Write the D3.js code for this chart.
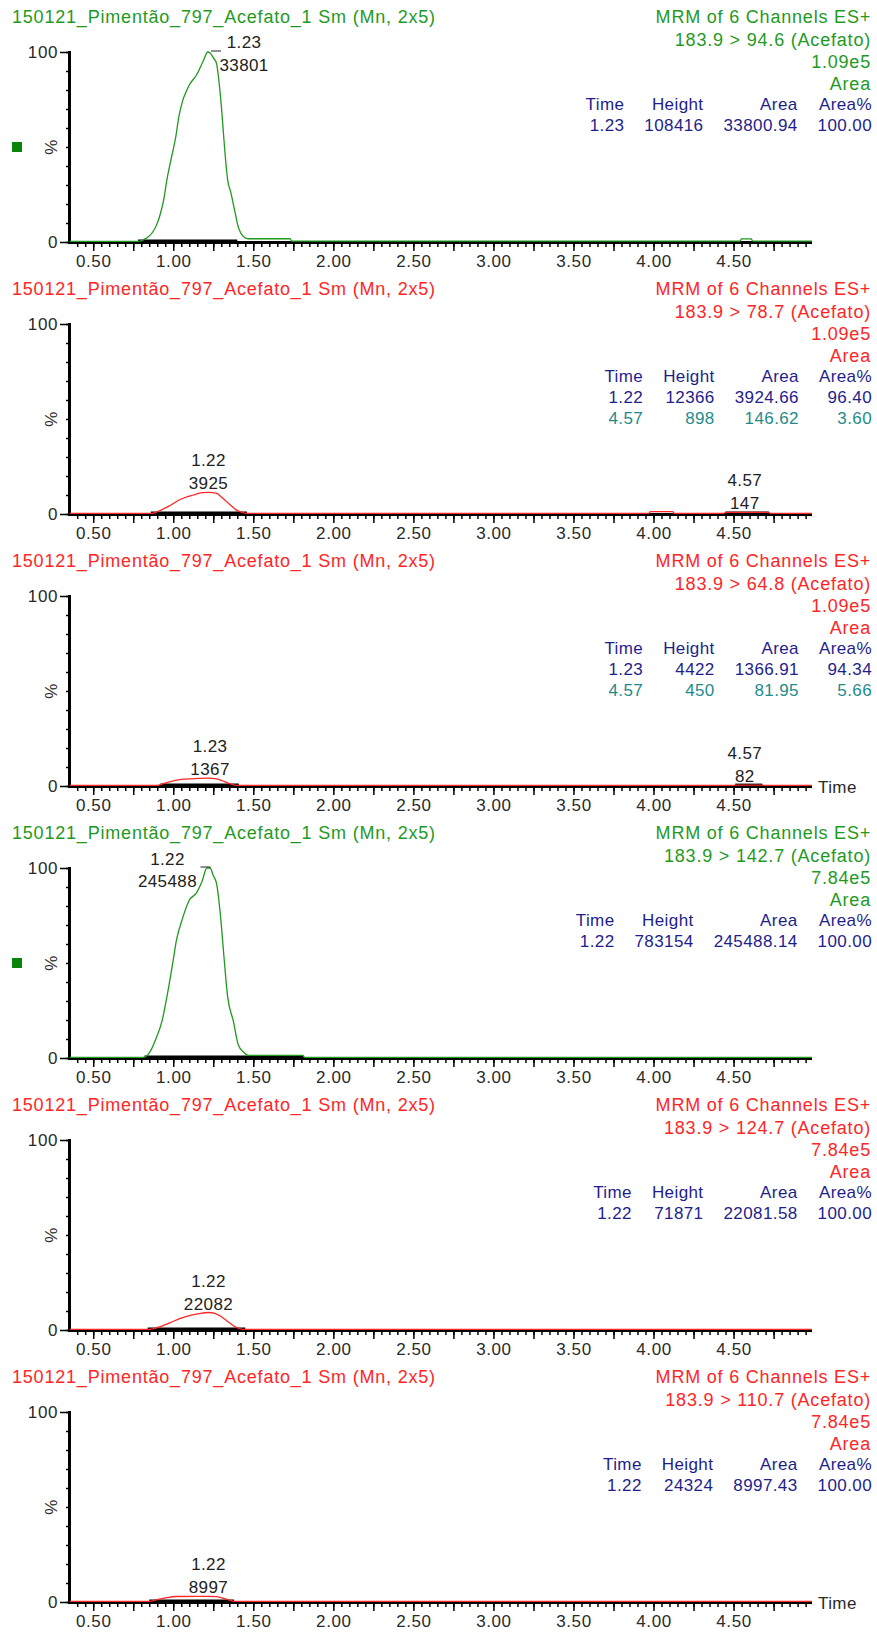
<!DOCTYPE html>
<html>
<head>
<meta charset="utf-8">
<script src="https://cdn.jsdelivr.net/npm/d3@7"></script>
<style>
body { margin: 0; background: #fff; }
svg text { font-family: "Liberation Sans", Arial, sans-serif; font-size: 17px; letter-spacing: 0.4px; }
svg text.hdr { font-size: 18px; letter-spacing: 0.8px; }
.tick text { font-size: 17px; letter-spacing: 0.6px; fill: #2a2a2a; }
</style>
</head>
<body>
<script>
var width = 877, height = 1632, panelH = 272;

// ---- data ----
var sampleName = "150121_Pimentão_797_Acefato_1 Sm (Mn, 2x5)";
var scanType = "MRM of 6 Channels ES+";
var channels = ["183.9 > 94.6 (Acefato)", "183.9 > 78.7 (Acefato)", "183.9 > 64.8 (Acefato)",
                "183.9 > 142.7 (Acefato)", "183.9 > 124.7 (Acefato)", "183.9 > 110.7 (Acefato)"];
var fullScale = ["1.09e5", "1.09e5", "1.09e5", "7.84e5", "7.84e5", "7.84e5"];
var tableHead = ["Time", "Height", "Area", "Area%"];
var tableRows = [
    [["1.23", "108416", "33800.94", "100.00"]],
    [["1.22", "12366", "3924.66", "96.40"], ["4.57", "898", "146.62", "3.60"]],
    [["1.23", "4422", "1366.91", "94.34"], ["4.57", "450", "81.95", "5.66"]],
    [["1.22", "783154", "245488.14", "100.00"]],
    [["1.22", "71871", "22081.58", "100.00"]],
    [["1.22", "24324", "8997.43", "100.00"]]
];
// peak apex labels: [retention time, area]
var peakLabels = [
    [[1.23, "33801"]],
    [[1.22, "3925"], [4.57, "147"]],
    [[1.23, "1367"], [4.57, "82"]],
    [[1.22, "245488"]],
    [[1.22, "22082"]],
    [[1.22, "8997"]]
];
// integrated ranges (start, end time)
var integrated = [
    [[0.78, 1.40]],
    [[0.86, 1.46], [4.45, 4.72]],
    [[0.92, 1.41], [4.51, 4.68]],
    [[0.82, 1.81]],
    [[0.84, 1.45]],
    [[0.85, 1.38]]
];
// traces: [time, % of full scale]
var trace946 = [[0.355,0.3],[0.78,0.3],[0.81,1.0],[0.83,1.9],[0.87,5],[0.90,9.8],[0.92,15],[0.94,22],[0.96,32.6],
    [0.99,45],[1.015,55],[1.035,66],[1.06,74.7],[1.08,79],[1.10,82.6],[1.146,88],[1.19,95.8],[1.215,100],[1.23,99.5],
    [1.25,97],[1.27,94],[1.285,85],[1.30,72],[1.31,61],[1.325,45],[1.34,32.6],[1.36,26],[1.375,20],[1.39,14],[1.40,9.8],
    [1.42,5],[1.44,2.8],[1.47,1.7],[1.73,1.7],[1.74,0.5],[4.54,0.5],[4.55,1.6],[4.61,1.6],[4.62,0.5],[4.99,0.5]];
var trace787 = [[0.355,0.3],[0.86,0.3],[0.93,2.3],[0.98,4.5],[1.04,7.5],[1.126,10],[1.18,11.2],[1.22,11.4],[1.267,11],
    [1.30,9],[1.32,7.5],[1.36,4.5],[1.39,2.3],[1.43,0.8],[1.46,0.3],[3.97,0.3],[3.98,1.2],[4.12,1.2],[4.13,0.3],
    [4.44,0.3],[4.45,0.9],[4.72,0.9],[4.73,0.3],[4.99,0.3]];
var trace648 = [[0.355,0.3],[0.90,0.3],[0.93,1],[0.97,2],[1.04,3.4],[1.12,3.8],[1.22,4.1],[1.27,3.8],[1.30,3],
    [1.355,1.2],[1.40,0.3],[4.50,0.3],[4.51,0.5],[4.68,0.5],[4.69,0.3],[4.99,0.3]];
var trace1427 = [[0.355,0.3],[0.80,0.3],[0.82,0.5],[0.86,4],[0.886,8.9],[0.93,19.5],[0.96,32],[0.996,49.5],[1.02,62],
    [1.06,74],[1.10,83],[1.146,87],[1.18,93],[1.21,100],[1.23,100],[1.25,96],[1.27,92],[1.296,74],[1.317,53],[1.34,32],
    [1.375,19.5],[1.406,7],[1.44,3],[1.47,1.4],[1.81,1.4],[1.82,0.3],[4.99,0.3]];
var trace1247 = [[0.355,0.3],[0.84,0.3],[0.92,1.8],[0.98,3.8],[1.04,6],[1.12,8],[1.18,8.9],[1.22,9.2],[1.26,8.8],
    [1.30,7],[1.34,4.5],[1.38,2],[1.42,0.6],[1.45,0.3],[4.99,0.3]];
var trace1107 = [[0.355,0.3],[0.85,0.3],[0.90,1.2],[0.96,2.3],[1.02,2.9],[1.22,3.0],[1.27,2.8],[1.32,1.8],[1.36,0.8],
    [1.38,0.3],[4.99,0.3]];
var traces = [trace946, trace787, trace648, trace1427, trace1247, trace1107];

var xMinorTicks = d3.range(8, 100).map(function(i){ return i / 20; });
var xMajorTicks = d3.range(2, 20).map(function(i){ return i / 4; });
var xTickLabels = [0.5, 1.0, 1.5, 2.0, 2.5, 3.0, 3.5, 4.0, 4.5];
var yTicks = d3.range(0, 101, 10);

// ---- styling / layout ----
var green = "#1f9a1f", red = "#ff2626";
var panelColor = [green, red, red, green, red, red];
var showMarker = [true, false, false, true, false, false];
var showTimeLabel = [false, false, true, false, false, true];
var labelSide = ["right", "top", "top", "left", "top", "top"];
var navy = "#1e1e8c", teal = "#1e8c8c";

var svg = d3.select("body").append("svg")
    .attr("width", width).attr("height", height);

var x = d3.scaleLinear().domain([0.355, 4.99]).range([70, 812]);
var fmt2 = d3.format(".2f");

function valueAt(tr, t) {
    var i = d3.bisector(function(d){ return d[0]; }).left(tr, t);
    if (i <= 0) return tr[0][1];
    if (i >= tr.length) return tr[tr.length - 1][1];
    var a = tr[i - 1], b = tr[i];
    return a[1] + (b[1] - a[1]) * (t - a[0]) / (b[0] - a[0]);
}

channels.forEach(function(ch, i) {
    var top = i * panelH;
    var g = svg.append("g").attr("transform", "translate(0," + top + ")");
    var y = d3.scaleLinear().domain([0, 100]).range([242, 52]);
    var col = panelColor[i];

    // headers
    g.append("text").attr("class", "hdr").attr("x", 12).attr("y", 23).attr("fill", col).text(sampleName);
    var hdr = [scanType, ch, fullScale[i], "Area"];
    var hy = [23, 46, 68, 90];
    hdr.forEach(function(t, k) {
        g.append("text").attr("class", "hdr").attr("x", 871).attr("y", hy[k]).attr("text-anchor", "end")
            .attr("fill", col).text(t);
    });

    // peak table, columns right-aligned and packed from the right edge
    var rows = [tableHead].concat(tableRows[i]);
    var cells = [];
    rows.forEach(function(r, ri) {
        r.forEach(function(v, ci) {
            var t = g.append("text").attr("y", 110 + ri * 21).attr("text-anchor", "end")
                .attr("fill", ri === 2 ? teal : navy).text(v);
            cells.push({ el: t, c: ci, w: t.node().getComputedTextLength() });
        });
    });
    var colW = [0, 1, 2, 3].map(function(c){
        return d3.max(cells.filter(function(d){ return d.c === c; }), function(d){ return d.w; });
    });
    var right = [0, 0, 0, 872];
    for (var c = 2; c >= 0; c--) right[c] = right[c + 1] - colW[c + 1] - 20;
    cells.forEach(function(d){ d.el.attr("x", right[d.c]); });

    // axes
    var yMinor = d3.axisLeft(y).tickValues(yTicks).tickSize(4).tickFormat("").tickSizeOuter(0);
    var yMajor = d3.axisLeft(y).tickValues([0, 100]).tickSize(10).tickPadding(2).tickSizeOuter(0)
        .tickFormat(d3.format("d"));
    var yg1 = g.append("g").attr("transform", "translate(70,0)").call(yMinor);
    var yg2 = g.append("g").attr("transform", "translate(70,0)").call(yMajor);
    yg1.select(".domain").remove();
    yg2.select(".domain").remove();
    g.selectAll(".tick line").attr("stroke", "#000").attr("stroke-width", 1.5);
    g.append("line").attr("x1", 69.5).attr("x2", 69.5).attr("y1", 51).attr("y2", 244)
        .attr("stroke", "#000").attr("stroke-width", 3);

    var xMinor = d3.axisBottom(x).tickValues(xMinorTicks).tickSize(4).tickFormat("").tickSizeOuter(0);
    var xMajor = d3.axisBottom(x).tickValues(xMajorTicks).tickSize(8).tickFormat("").tickSizeOuter(0);
    var xLab = d3.axisBottom(x).tickValues(xTickLabels).tickSize(0).tickPadding(12).tickFormat(fmt2);
    [xMinor, xMajor, xLab].forEach(function(ax) {
        var a = g.append("g").attr("transform", "translate(0,243)").call(ax);
        a.select(".domain").remove();
        a.selectAll(".tick line").attr("stroke", "#000").attr("stroke-width", 1.5);
    });
    g.append("line").attr("x1", 69).attr("x2", 812).attr("y1", 242.5).attr("y2", 242.5)
        .attr("stroke", "#000").attr("stroke-width", 3);

    // % label, marker, Time
    g.append("text").attr("transform", "translate(57,147) rotate(-90)").attr("text-anchor", "middle")
        .attr("fill", "#2a2a2a").text("%");
    if (showMarker[i]) {
        g.append("rect").attr("x", 12).attr("y", 142).attr("width", 10).attr("height", 10)
            .attr("fill", "#0b840b");
    }
    if (showTimeLabel[i]) {
        g.append("text").attr("x", 818).attr("y", 249).attr("fill", "#2a2a2a").text("Time");
    }

    // integration baselines
    integrated[i].forEach(function(r) {
        g.append("line").attr("x1", x(r[0])).attr("x2", x(r[1]))
            .attr("y1", y(0) - 1.2).attr("y2", y(0) - 1.2)
            .attr("stroke", "#000").attr("stroke-width", 2.4);
    });

    // trace
    var line = d3.line().x(function(d){ return x(d[0]); }).y(function(d){ return y(d[1]); })
        .curve(d3.curveMonotoneX);
    g.append("path").datum(traces[i]).attr("d", line)
        .attr("fill", "none").attr("stroke", col).attr("stroke-width", 1.3);

    // peak labels
    peakLabels[i].forEach(function(p) {
        var near = traces[i].filter(function(d){ return Math.abs(d[0] - p[0]) <= 0.03; });
        var top = d3.max([valueAt(traces[i], p[0])].concat(near.map(function(d){ return d[1]; })));
        var apex = y(top);
        var px = x(p[0]);
        var side = p[0] > 2 ? "top" : labelSide[i];
        var lx = px, ly1 = apex - 26, ly2 = apex - 3;
        if (side === "right") {
            lx = px + 34; ly1 = apex - 4; ly2 = apex + 19;
            g.append("line").attr("x1", px + 1).attr("x2", px + 11).attr("y1", apex - 1).attr("y2", apex - 1)
                .attr("stroke", "#222").attr("stroke-width", 1);
        } else if (side === "left") {
            lx = px - 41; ly1 = apex - 3; ly2 = apex + 19;
            g.append("line").attr("x1", px - 8).attr("x2", px + 2).attr("y1", apex - 1).attr("y2", apex - 1)
                .attr("stroke", "#222").attr("stroke-width", 1);
        }
        g.append("text").attr("x", lx).attr("y", ly1).attr("text-anchor", "middle")
            .attr("fill", "#222").text(fmt2(p[0]));
        g.append("text").attr("x", lx).attr("y", ly2).attr("text-anchor", "middle")
            .attr("fill", "#222").text(p[1]);
    });
});
</script>
</body>
</html>
